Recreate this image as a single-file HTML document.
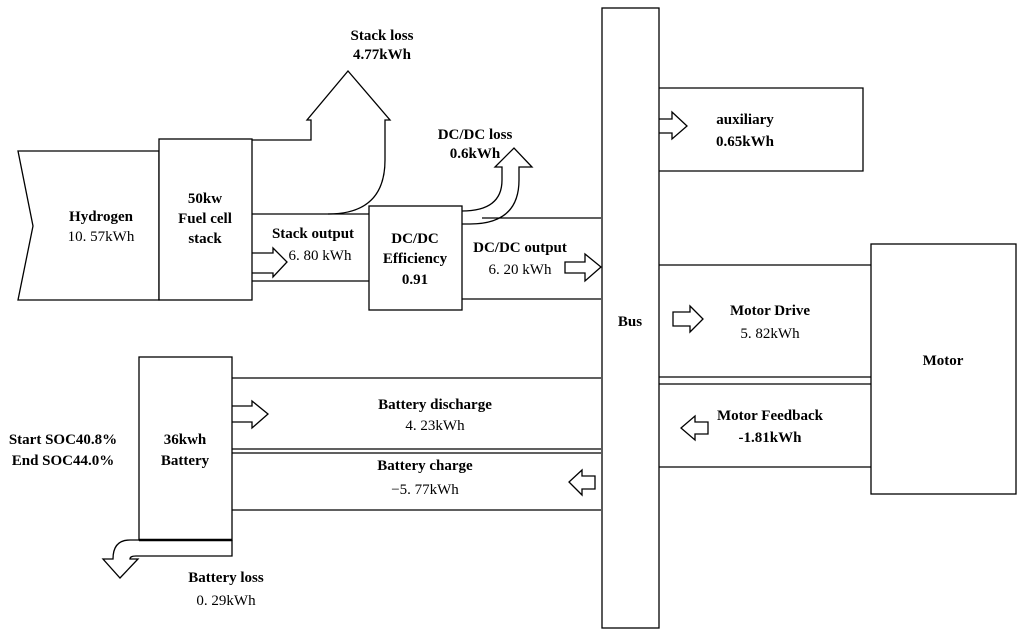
<!DOCTYPE html>
<html><head><meta charset="utf-8"><style>
html,body{margin:0;padding:0;background:#fff;}
svg{display:block;}
text{font-family:"Liberation Serif",serif;font-weight:bold;font-size:15px;fill:#000;text-anchor:middle;}
</style></head><body>
<svg width="1024" height="634" viewBox="0 0 1024 634" xmlns="http://www.w3.org/2000/svg">
<g fill="none" stroke="#000" stroke-width="1.3">
<path d="M18,151 L159,151 L159,300 L18,300 L33,226 Z" fill="#fff"/>
<rect x="159" y="139" width="93" height="161" fill="#fff"/>
<path d="M252,140 L311,140 L311,120 L307,120 L348,71 L390,120 L385,120 L385,160 Q385,214 328,214 L252,214"/>
<path d="M252,281 L369,281"/>
<path d="M328,214 L369,214"/>
<path d="M252,253 L273,253 L273,248 L287,262 L273,277 L273,273 L252,273"/>
<rect x="369" y="206" width="93" height="104" fill="#fff"/>
<path d="M462,211 Q502,211 502,180 L502,167 L495,167 L514,148 L532,167 L519,167 L519,180 Q519,224 470,224 L462,224"/>
<path d="M482,218 L601,218 M462,299 L601,299"/>
<path d="M565,262 L585,262 L585,254 L601,267 L585,281 L585,273 L565,273 Z"/>
<rect x="602" y="8" width="57" height="620" fill="#fff"/>
<path d="M659,88 L863,88 L863,171 L659,171"/>
<path d="M659,119 L672,119 L672,112 L687,126 L672,139 L672,133 L659,133"/>
<rect x="871" y="244" width="145" height="250"/>
<path d="M659,265 L871,265 M659,377 L871,377 M659,384 L871,384 M659,467 L871,467"/>
<path d="M673,312 L690,312 L690,306 L703,319 L690,332 L690,326 L673,326 Z"/>
<path d="M708,422 L695,422 L695,416 L681,428 L695,440 L695,434 L708,434 Z"/>
<rect x="139" y="357" width="93" height="183"/>
<path d="M232,378 L601,378 M232,449 L601,449 M232,453 L601,453 M232,510 L601,510"/>
<path d="M232,406 L252,406 L252,401 L268,414 L252,428 L252,422 L232,422"/>
<path d="M595,476 L582,476 L582,470 L569,482 L582,495 L582,489 L595,489 Z"/>
<path d="M232,540 L130,540 Q113,540 113,559 L103,559 L120,578 L138,559 L130,559 Q130,556 136,556 L232,556 L232,540" />
<path d="M139,540 L232,540" stroke-width="2.5"/>
</g>
<text x="101" y="221">Hydrogen</text>
<text x="101" y="241" style="font-weight:normal">10. 57kWh</text>
<text x="205" y="203">50kw</text>
<text x="205" y="223">Fuel cell</text>
<text x="205" y="243">stack</text>
<text x="382" y="40">Stack loss</text>
<text x="382" y="59">4.77kWh</text>
<text x="475" y="139">DC/DC loss</text>
<text x="475" y="158">0.6kWh</text>
<text x="313" y="238">Stack output</text>
<text x="320" y="260" style="font-weight:normal">6. 80  kWh</text>
<text x="415" y="243">DC/DC</text>
<text x="415" y="263">Efficiency</text>
<text x="415" y="284">0.91</text>
<text x="520" y="252">DC/DC output</text>
<text x="520" y="274" style="font-weight:normal">6. 20  kWh</text>
<text x="630" y="326">Bus</text>
<text x="745" y="124">auxiliary</text>
<text x="745" y="146">0.65kWh</text>
<text x="770" y="315">Motor Drive</text>
<text x="770" y="338" style="font-weight:normal">5. 82kWh</text>
<text x="943" y="365">Motor</text>
<text x="770" y="420">Motor Feedback</text>
<text x="770" y="442">-1.81kWh</text>
<text x="435" y="409">Battery discharge</text>
<text x="435" y="430" style="font-weight:normal">4. 23kWh</text>
<text x="425" y="470">Battery charge</text>
<text x="425" y="494" style="font-weight:normal">−5. 77kWh</text>
<text x="185" y="444">36kwh</text>
<text x="185" y="465">Battery</text>
<text x="63" y="444">Start SOC40.8%</text>
<text x="63" y="465">End SOC44.0%</text>
<text x="226" y="582">Battery loss</text>
<text x="226" y="605" style="font-weight:normal">0. 29kWh</text>
</svg>
</body></html>
